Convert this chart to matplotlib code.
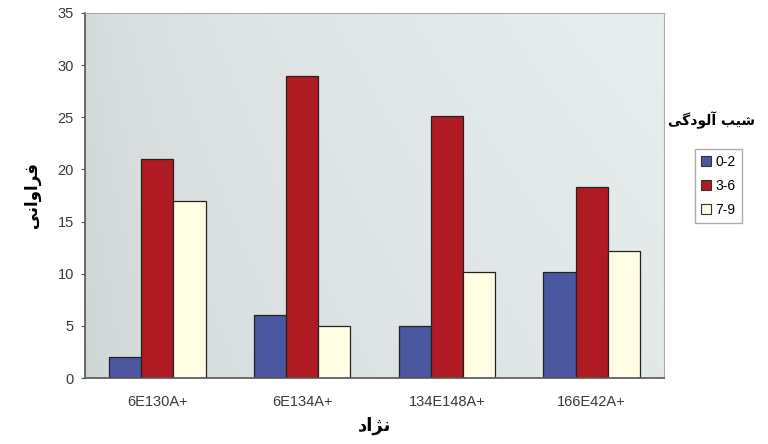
import numpy as np
import matplotlib
matplotlib.use("Agg")
import matplotlib.pyplot as plt
from matplotlib.patches import Patch

# data
strains = ['6E130A+', '6E134A+', '134E148A+', '166E42A+']
grade_0_2 = [2, 6, 5, 10.2]
grade_3_6 = [21, 29, 25.1, 18.3]
grade_7_9 = [17, 5, 10.2, 12.2]
series_names = ['0-2', '3-6', '7-9']
yticks = [0, 5, 10, 15, 20, 25, 30, 35]

# Persian labels written in shaped, visual order (matplotlib does no RTL shaping)
# فراوانی / نژاد / شیب آلودگی
ylab = '\ufbfd\ufee7\ufe8d\ufeed\ufe8d\ufeae\ufed3'
xlab = '\ufea9\ufe8d\ufb8b\ufee7'
leg_title = '\ufbfd\ufb94\ufea9\ufeee\ufedf\ufe81 \ufe90\ufbff\ufeb7'

colors = ['#4b58a0', '#b01a22', '#fffde3']

fig = plt.figure(figsize=(7.68, 4.44), dpi=100)
ax = fig.add_axes([85 / 768, 66 / 444, 579 / 768, 365 / 444])

# gradient background of plot area
gx = np.linspace(0, 1, 200)
gy = np.linspace(0, 1, 100)
GX, GY = np.meshgrid(gx, gy)
g = 0.81 + 0.08 * GX ** 0.5 + 0.02 * GY
bg = np.dstack([g, g + 0.02, g + 0.02])
bg = np.clip(bg, 0, 1)
ax.imshow(bg, extent=[-0.5, 3.5, 0, 35], aspect='auto', origin='lower', zorder=0)

x = np.arange(len(strains))
w = 0.222
for i, (vals, c) in enumerate(zip([grade_0_2, grade_3_6, grade_7_9], colors)):
    ax.bar(x + (i - 1) * w, vals, w, color=c, edgecolor='#222222', linewidth=0.9, zorder=2)

ax.set_xlim(-0.5, 3.5)
ax.set_ylim(0, 35)
ax.set_yticks(yticks)
ax.set_xticks(x)
ax.set_xticklabels(strains)
ax.tick_params(axis='x', length=0, pad=12, labelsize=10.5, labelcolor='#3a3a3a')
ax.tick_params(axis='y', length=3, pad=5, labelsize=10.5, labelcolor='#3a3a3a', color='#555555')
for lab in ax.get_xticklabels() + ax.get_yticklabels():
    lab.set_family('Liberation Sans')

for s in ['top', 'right']:
    ax.spines[s].set_color('#a8abab')
for s in ['left', 'bottom']:
    ax.spines[s].set_color('#555555')
    ax.spines[s].set_linewidth(1.2)

ax.set_ylabel(ylab, family=['DejaVu Sans'], fontweight='bold', fontsize=12, labelpad=12)
ax.set_xlabel(xlab, family=['DejaVu Sans'], fontweight='bold', fontsize=13, labelpad=6)

handles = [Patch(facecolor=c, edgecolor='#333333', linewidth=0.8) for c in colors]
leg = fig.legend(handles, series_names, loc='upper left', bbox_to_anchor=(688 / 768, 1 - 142 / 444),
                 frameon=True, fancybox=False, edgecolor='#999999',
                 handlelength=0.7, handleheight=0.7, handletextpad=0.3, borderpad=0.45,
                 labelspacing=0.7, prop={'family': 'Liberation Sans', 'size': 10})
fig.text(712 / 768, 1 - 120 / 444, leg_title, ha='center', va='center',
         family=['DejaVu Sans'], fontweight='bold', fontsize=10)

fig.savefig('out.png', dpi=100)
